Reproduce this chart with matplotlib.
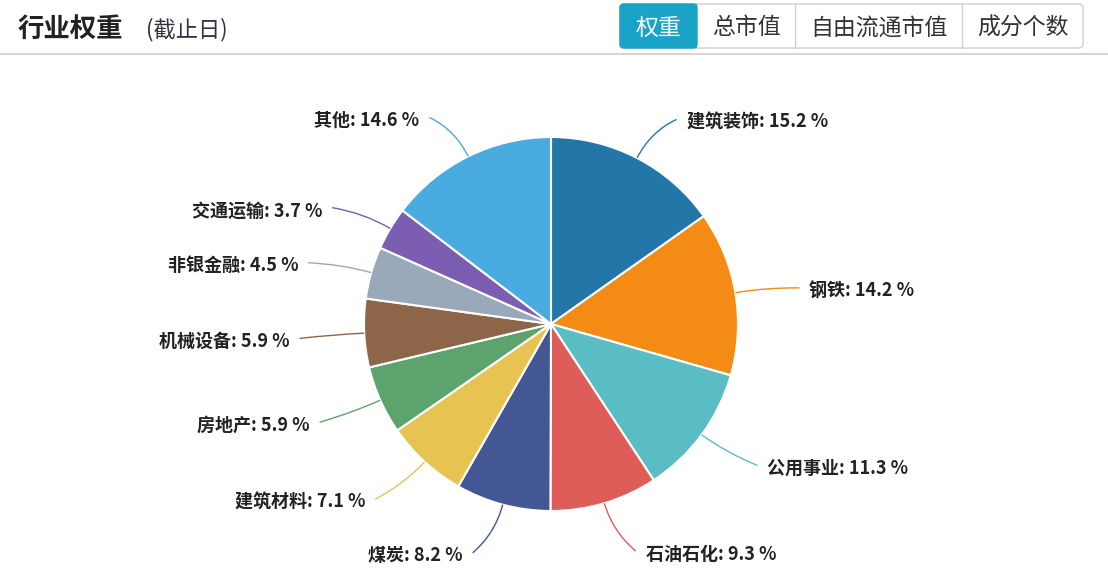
import matplotlib.pyplot as plt
import numpy as np
from matplotlib.path import Path
from matplotlib.patches import PathPatch, FancyBboxPatch, Rectangle

plt.rcParams['font.family'] = ['Noto Sans CJK SC', 'DejaVu Sans']

# data
industries = ['建筑装饰', '钢铁', '公用事业', '石油石化', '煤炭', '建筑材料',
              '房地产', '机械设备', '非银金融', '交通运输', '其他']
weights = [15.2, 14.2, 11.3, 9.3, 8.2, 7.1, 5.9, 5.9, 4.5, 3.7, 14.6]
colors = ['#2277a8', '#f38b14', '#5bbdc4', '#de5d58', '#435794', '#e7c352',
          '#5da36e', '#8d6548', '#9aa9ba', '#7b5db1', '#4aabe0']
title = '行业权重'
subtitle = '(截止日)'
buttons = ['权重', '总市值', '自由流通市值', '成分个数']

W, H = 1108, 588
fig = plt.figure(figsize=(W / 100, H / 100), dpi=100)
ax = fig.add_axes([0, 0, 1, 1])

cx, cy, r = 551, H - 324, 187
wedges, _ = ax.pie(weights, colors=colors, startangle=90, counterclock=False,
                   center=(cx, cy), radius=r, frame=True,
                   wedgeprops=dict(edgecolor='white', linewidth=1.5))

# leader lines and labels
for w, name, val, col in zip(wedges, industries, weights, colors):
    a = np.deg2rad((w.theta1 + w.theta2) / 2)
    ca, sa = np.cos(a), np.sin(a)
    side = 1 if ca >= 0 else -1
    p0 = (cx + r * ca, cy + r * sa)
    p1 = (cx + 1.16 * r * ca, cy + 1.16 * r * sa)
    p2 = (cx + 1.25 * r * ca + side * 18, cy + 1.25 * r * sa - 3)
    path = Path([p0, p1, p2], [Path.MOVETO, Path.CURVE3, Path.CURVE3])
    ax.add_patch(PathPatch(path, fill=False, edgecolor=col, lw=1.0))
    ax.text(p2[0] + side * 10, p2[1] - 3, f'{name}: {val} %',
            ha='left' if side > 0 else 'right', va='center',
            fontsize=13, fontweight='bold', color='#222222')

# header
ax.text(18, H - 29, title, fontsize=19, fontweight='bold', color='#222222',
        va='center', ha='left')
ax.text(146, H - 30, subtitle, fontsize=16, color='#333344', va='center', ha='left')
ax.plot([0, W], [H - 54, H - 54], color='#d6d6d6', lw=1.5)

# button group
bx = [620, 697, 795, 962, 1083]
by0, by1 = H - 48, H - 4
ax.add_patch(FancyBboxPatch((bx[0], by0), bx[-1] - bx[0], by1 - by0,
                            boxstyle='round,pad=0,rounding_size=4',
                            facecolor='white', edgecolor='#cfcfcf', lw=1))
ax.add_patch(FancyBboxPatch((bx[0], by0), bx[1] - bx[0], by1 - by0,
                            boxstyle='round,pad=0,rounding_size=4',
                            facecolor='#19a3c6', edgecolor='#19a3c6', lw=1))
ax.add_patch(Rectangle((bx[1] - 8, by0), 8, by1 - by0,
                       facecolor='#19a3c6', edgecolor='none'))
for x in bx[2:-1]:
    ax.plot([x, x], [by0, by1], color='#cfcfcf', lw=1)
for i, label in enumerate(buttons):
    ax.text((bx[i] + bx[i + 1]) / 2, (by0 + by1) / 2 - 2, label, fontsize=16.5,
            ha='center', va='center',
            color='white' if i == 0 else '#333333')

ax.set_xlim(0, W)
ax.set_ylim(0, H)
ax.set_aspect('auto')
ax.axis('off')

fig.savefig('out.png', dpi=100, facecolor='white')
